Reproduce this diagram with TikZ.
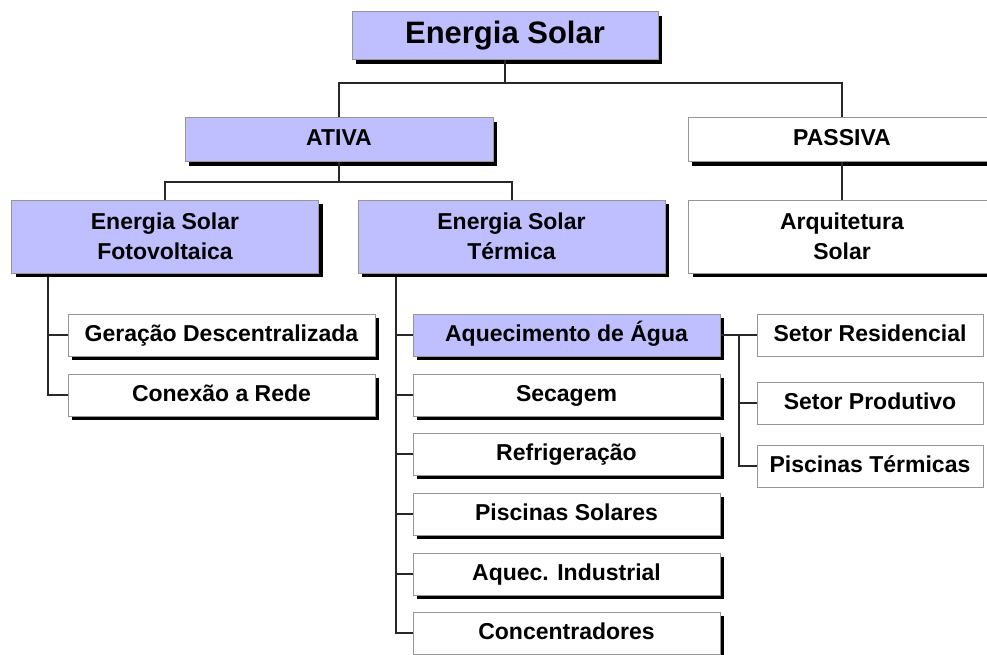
\documentclass[tikz,border=0pt]{standalone}
\usepackage{fontspec}
\setmainfont{Liberation Sans}
\usetikzlibrary{shadows}
\definecolor{lilas}{RGB}{191,191,255}
\definecolor{bordacinza}{RGB}{150,150,150}
\definecolor{linha}{RGB}{40,40,40}
\tikzset{
    caixa/.style = {rectangle, draw=bordacinza, line width=1pt, fill=white, inner sep=0pt, align=center, minimum width=307pt, minimum height=42pt, text height=16.5pt, text depth=4.5pt, font=\bfseries\fontsize{23}{30}\selectfont},
    duas/.style = {text height=, text depth=, minimum height=73pt},
    sombra/.style = {drop shadow={shadow xshift=4pt, shadow yshift=-4pt, fill=black, opacity=1}},
    caixaw/.style = {caixa, sombra},
    caixab/.style = {caixa, sombra, fill=lilas},
    caixas/.style = {caixa, minimum width=226pt},
    link/.style = {draw=linha, line width=2pt}
}
\begin{document}
\begin{tikzpicture}[x=1pt,y=-1pt]
\clip (0,0) rectangle (987,655);
%
\node[caixab, minimum width=306pt, minimum height=48pt, text height=22pt, text depth=6pt, font=\bfseries\fontsize{31}{36}\selectfont] at (505,36) (es) {Energia Solar};
\node[caixab, minimum width=308pt, minimum height=44pt] at (339,140) (ativa) {ATIVA};
\node[caixaw, minimum width=308pt, minimum height=44pt] at (842,140) (passiva) {PASSIVA};
\node[caixab, duas] at (165,236.5) (fv) {Energia Solar\\Fotovoltaica};
\node[caixab, duas] at (511.5,236.5) (term) {Energia Solar\\Térmica};
\node[caixaw, duas] at (842,236.5) (arq) {Arquitetura\\Solar};
\node[caixaw] at (221.5,335) (ger) {Geração Descentralizada};
\node[caixaw] at (221.5,395) (con) {Conexão a Rede};
\node[caixab] at (566.5,335) (aq) {Aquecimento de Água};
\node[caixaw] at (566.5,395) (sec) {Secagem};
\node[caixaw] at (566.5,454) (ref) {Refrigeração};
\node[caixaw] at (566.5,514) (pis) {Piscinas Solares};
\node[caixaw] at (566.5,574) (ind) {Aquec. Industrial};
\node[caixaw] at (566.5,633) (conc) {Concentradores};
\node[caixas] at (870,335) (res) {Setor Residencial};
\node[caixas] at (870,403) (prod) {Setor Produtivo};
\node[caixas] at (870,466) (pister) {Piscinas Térmicas};
%
\coordinate (j1) at (505,83);
\coordinate (j2) at (339,182);
\coordinate (fvb) at (48,277);
\coordinate (tb) at (396,277);
\coordinate (aqj) at (739,335);
%
\draw[link] (es.south) -- (j1);
\draw[link] (ativa.north) |- (j1) -| (passiva.north);
\draw[link] (ativa.south) -- (j2);
\draw[link] (fv.north) |- (j2) -| (term.north);
\draw[link] (passiva.south) -- (arq.north);
\draw[link] (fvb) |- (ger.west);
\draw[link] (fvb) |- (con.west);
\draw[link] (tb) |- (aq.west);
\draw[link] (tb) |- (sec.west);
\draw[link] (tb) |- (ref.west);
\draw[link] (tb) |- (pis.west);
\draw[link] (tb) |- (ind.west);
\draw[link] (tb) |- (conc.west);
\draw[link] (aq.east) -- (res.west);
\draw[link] (aqj) |- (prod.west);
\draw[link] (aqj) |- (pister.west);
\end{tikzpicture}
\end{document}
